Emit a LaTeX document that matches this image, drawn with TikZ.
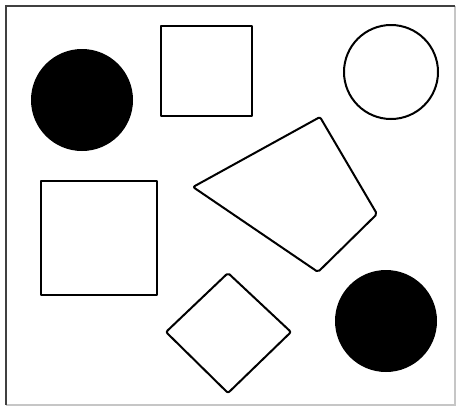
\documentclass[tikz,border=0pt]{standalone}
\begin{document}
\begin{tikzpicture}[x=1pt,y=-1pt,
  outl/.style={draw=black,line width=2pt,line join=round},
  blk/.style={fill=black,draw=none}]
\useasboundingbox (0,0) rectangle (457,407);
\fill[white] (0,0) rectangle (457,407);
% frame
\draw[gray!45,line width=1.5pt] (455,6) -- (455,405) -- (6,405);
\draw[black!75,line width=2.2pt] (6,405) -- (6,6) -- (455,6);
% filled circles
\fill[blk] (82,100) circle (51);
\fill[blk] (386,321) circle (51);
% open circle
\draw[outl] (391,72) circle (47);
% squares
\draw[outl] (161,26) rectangle (252,116);
\draw[outl] (41,181) rectangle (157,295);
% quadrilateral
\draw[outl,rounded corners=2pt] (193,187) -- (320,117) -- (377,214) -- (318,272) -- cycle;
% diamond
\draw[outl,rounded corners=2pt] (228,273) -- (291,332) -- (228,393) -- (166,332) -- cycle;
\end{tikzpicture}
\end{document}
